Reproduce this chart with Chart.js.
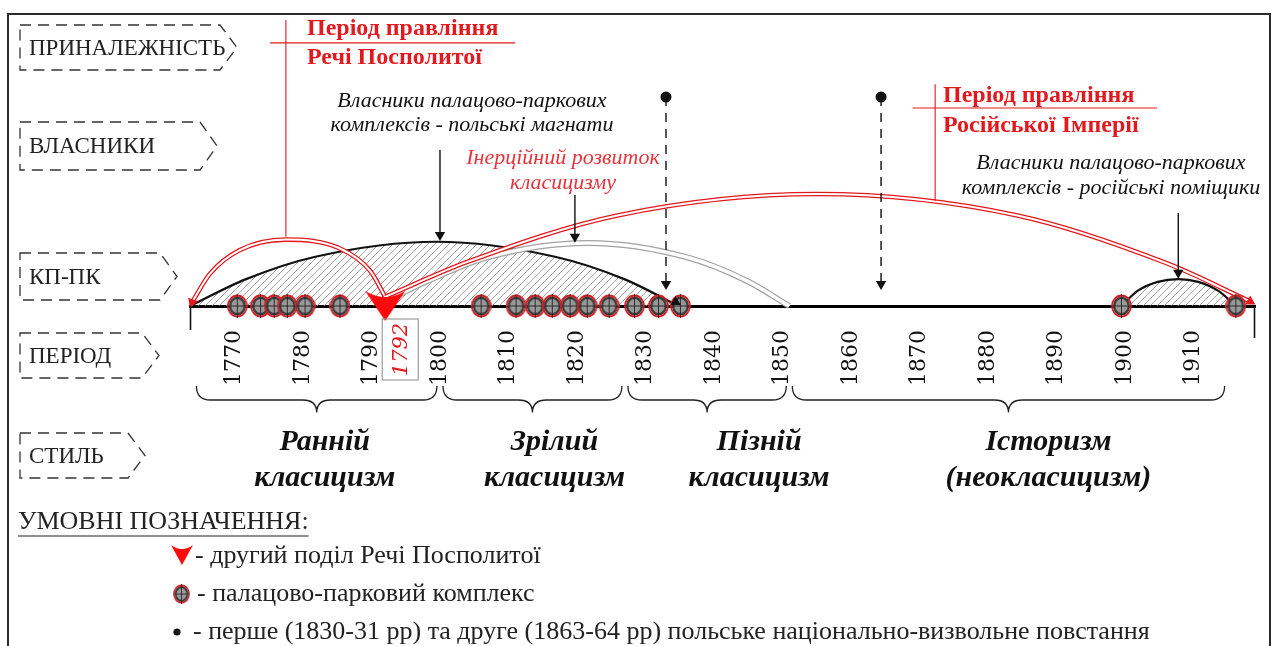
<!DOCTYPE html>
<html>
<head>
<meta charset="utf-8">
<script src="https://cdn.jsdelivr.net/npm/chart.js@4.4.1/dist/chart.umd.min.js"></script>
<style>
  html, body { margin: 0; padding: 0; background: #fff; }
  #wrap { width: 1275px; height: 646px; }
</style>
</head>
<body>
<div id="wrap"><canvas id="timeline" width="1275" height="646"></canvas></div>
<script>
// ---- data (years on x, schematic height 0..100 on y) ----
const tickYears = [1770, 1780, 1790, 1800, 1810, 1820, 1830, 1840, 1850, 1860, 1870, 1880, 1890, 1900, 1910];
const partitionYear = 1792;
const complexYears = [1770.4, 1773.8, 1775.8, 1777.7, 1780.3, 1785.4, 1806.0, 1811.1, 1813.9,
                      1816.4, 1819.0, 1821.5, 1824.7, 1828.4, 1831.9, 1835.1, 1899.5, 1916.2];
const uprisingYears = [1833, 1864.4];

const styleNames = [["Ранній", "класицизм"], ["Зрілий", "класицизм"], ["Пізній", "класицизм"], ["Історизм", "(неокласицизм)"]];
const styleStart = [1764, 1800, 1827, 1851];
const styleEnd = [1800, 1827, 1851, 1915];

// arcs: [year, height]
const polishOwners = [[1763.5, 0], [1771.6, 8.7], [1781.8, 16.1], [1799.5, 21], [1816.8, 16.1], [1827, 8.7], [1834.8, 0]];
const russianOwners = [[1899.5, 0], [1901.9, 5.0], [1904.8, 7.9], [1907.8, 8.8], [1910.7, 7.9], [1913.6, 5.0], [1916.2, 0]];
const inertiaArc = [[1792, 1.5], [1798.1, 8.1], [1806.9, 15.9], [1821.6, 20.6], [1836.1, 15.9], [1844.9, 8.1], [1851, 0]];
const polishRule = [[1763.8, 1.2], [1766.4, 10.5], [1770.7, 18.2], [1777.5, 21.7], [1785.4, 18.8], [1789.8, 11.5], [1792, 3]];
const russianRule = [[1792, 3], [1804, 14.4], [1825.9, 29.6], [1855.1, 36.6], [1884.3, 29.6], [1906.2, 13.9], [1918.3, 1.5]];

const rowNames = ["ПРИНАЛЕЖНІСТЬ", "ВЛАСНИКИ", "КП-ПК", "ПЕРІОД", "СТИЛЬ"];
const legendTitle = "УМОВНІ ПОЗНАЧЕННЯ:";
const legendItems = ["- другий поділ Речі Посполитої", "- палацово-парковий комплекс",
  "- перше (1830-31 рр) та друге (1863-64 рр) польське національно-визвольне повстання"];

// ---- colours ----
const RED = "#e2191f";
const RED_SOFT = "#e6343c";
const INK = "#111";

// hatch for the owner domes
function makeHatch() {
  const c = document.createElement("canvas");
  c.width = c.height = 7;
  const g = c.getContext("2d");
  g.strokeStyle = "#8c8c8c";
  g.lineWidth = 0.8;
  g.beginPath();
  g.moveTo(0, 7); g.lineTo(7, 0);
  g.moveTo(-1, 1); g.lineTo(1, -1);
  g.moveTo(6, 8); g.lineTo(8, 6);
  g.stroke();
  return g.createPattern(c, "repeat");
}

// palace-park complex marker
function makeComplexIcon(w, h) {
  const c = document.createElement("canvas");
  c.width = w; c.height = h;
  const g = c.getContext("2d");
  const cx = w / 2, cy = h / 2, rx = w / 2 - 1, ry = h / 2 - 1.5;
  g.fillStyle = "#989898";
  g.beginPath(); g.ellipse(cx, cy, rx - 2.2, ry - 2.2, 0, 0, 2 * Math.PI); g.fill();
  g.strokeStyle = "#3e3e3e"; g.lineWidth = 2.4;
  g.beginPath(); g.ellipse(cx, cy, rx - 2.2, ry - 2.2, 0, 0, 2 * Math.PI); g.stroke();
  g.strokeStyle = "#d21f24"; g.lineWidth = 1.8;
  g.beginPath(); g.ellipse(cx, cy, rx, ry, 0, 0, 2 * Math.PI); g.stroke();
  g.strokeStyle = "#222"; g.lineWidth = 0.9;
  g.beginPath();
  g.moveTo(cx, 0); g.lineTo(cx, h);
  g.moveTo(cx - rx + 2, cy); g.lineTo(cx + rx - 2, cy);
  g.stroke();
  return c;
}

// second partition marker (red arrowhead)
function makePartitionIcon(w, h) {
  const c = document.createElement("canvas");
  c.width = w; c.height = h;
  const g = c.getContext("2d");
  g.fillStyle = "#ff0a0a";
  g.beginPath();
  g.moveTo(0, 0);
  g.quadraticCurveTo(w / 2, h * 0.4, w, 0);
  g.lineTo(w / 2, h);
  g.closePath();
  g.fill();
  return c;
}

const hatchFill = makeHatch();
const complexIcon = makeComplexIcon(21, 24);
const partitionIcon = makePartitionIcon(40, 30);

const toXY = pts => pts.map(p => ({ x: p[0], y: p[1] }));

function curve(pts, color, width, order, extra) {
  return Object.assign({
    data: toXY(pts), borderColor: color, borderWidth: width,
    cubicInterpolationMode: "monotone", pointRadius: 0, fill: false, clip: false, order: order
  }, extra || {});
}

function pointer(year, from, to, dot, dashed) {
  return {
    data: [{ x: year, y: from }, { x: year, y: to }],
    borderColor: INK, borderWidth: 1.4, borderDash: dashed ? [9, 7] : [],
    pointStyle: ["circle", "triangle"], pointRadius: [dot ? 5.5 : 0, 6],
    pointRotation: [0, 180], pointBackgroundColor: INK, pointBorderWidth: 0,
    clip: false, order: 5
  };
}

function leader(pts) {
  return { data: toXY(pts), borderColor: RED, borderWidth: 1.1, pointRadius: 0, clip: false, order: 12 };
}

const arrowHeads = [
  { x: polishRule[0][0], y: polishRule[0][1], rot: 200, color: RED },
  { x: russianRule[6][0], y: russianRule[6][1], rot: 120, color: RED },
  { x: polishOwners[6][0] - 0.4, y: 1.3, rot: 120, color: INK }
];

const datasets = [
  curve(polishOwners, INK, 2.2, 20, { fill: "origin", backgroundColor: hatchFill }),
  curve(russianOwners, INK, 2.2, 20, { fill: "origin", backgroundColor: hatchFill }),
  curve(inertiaArc, "#a2a2a2", 6, 18),
  curve(inertiaArc, "#fff", 3.6, 17),
  curve(polishRule, RED, 4.6, 16),
  curve(polishRule, "#fff", 2, 15),
  curve(russianRule, RED, 4.6, 14),
  curve(russianRule, "#fff", 2, 13),
  leader([[1777.5, 93.5], [1777.5, 22.6]]),
  leader([[1775.2, 86], [1811, 86]]),
  leader([[1872.3, 72.5], [1872.3, 34.3]]),
  leader([[1869, 64.7], [1904.7, 64.7]]),
  pointer(1800, 51, 23.2, false, false),
  pointer(1819.7, 36.3, 22.6, false, false),
  pointer(1907.8, 30.4, 10.9, false, false),
  pointer(uprisingYears[0], 68.3, 7.2, true, true),
  pointer(uprisingYears[1], 68.3, 7.2, true, true),
  { data: complexYears.map(y => ({ x: y, y: 0 })), showLine: false, pointStyle: complexIcon,
    pointRadius: 10, clip: false, order: 3 },
  { data: [{ x: partitionYear, y: 0 }], showLine: false, pointStyle: partitionIcon,
    pointRadius: 15, clip: false, order: 2 },
  { data: arrowHeads, showLine: false, pointStyle: "triangle", pointRadius: 6,
    pointRotation: c => c.raw.rot, pointBackgroundColor: c => c.raw.color,
    pointBorderWidth: 0, clip: false, order: 1 }
];

// ---- layout helpers for the decoration plugin ----
const rowBoxes = [[20, 25, 200, 45], [20, 122, 180, 48], [20, 253, 140, 47], [20, 333, 122, 45], [20, 433, 108, 45]];
const styleLabelShift = [8, 22, 52, 40];

function tagBox(ctx, b, label) {
  const [x, y, w, h] = b, tip = 17;
  ctx.save();
  ctx.setLineDash([11, 7]);
  ctx.lineWidth = 1.3;
  ctx.strokeStyle = "#333";
  ctx.beginPath();
  ctx.moveTo(x, y);
  ctx.lineTo(x + w, y);
  ctx.lineTo(x + w + tip, y + h / 2);
  ctx.lineTo(x + w, y + h);
  ctx.lineTo(x, y + h);
  ctx.closePath();
  ctx.stroke();
  ctx.restore();
  ctx.font = "23px 'Liberation Serif'";
  ctx.fillStyle = "#222";
  ctx.textAlign = "left";
  ctx.textBaseline = "middle";
  ctx.fillText(label, x + 9, y + h / 2 + 1);
}

function brace(ctx, x1, x2, y, h) {
  const mid = (x1 + x2) / 2, r = 14;
  ctx.beginPath();
  ctx.moveTo(x1, y - h);
  ctx.quadraticCurveTo(x1, y, x1 + r, y);
  ctx.lineTo(mid - r, y);
  ctx.quadraticCurveTo(mid, y, mid, y + h * 0.9);
  ctx.quadraticCurveTo(mid, y, mid + r, y);
  ctx.lineTo(x2 - r, y);
  ctx.quadraticCurveTo(x2, y, x2, y - h);
  ctx.stroke();
}

function lines(ctx, txt, x, ys) {
  txt.forEach((t, i) => ctx.fillText(t, x, ys[i]));
}

const decor = {
  id: "decor",
  afterDraw(chart) {
    const ctx = chart.ctx, xs = chart.scales.x, ys = chart.scales.y;
    const axisY = ys.getPixelForValue(0);
    ctx.save();

    // frame
    ctx.strokeStyle = "#2b2b2b";
    ctx.lineWidth = 2;
    ctx.strokeRect(8, 14, 1262, 650);

    // ends of the time axis
    ctx.strokeStyle = INK;
    ctx.lineWidth = 1.6;
    ctx.beginPath();
    ctx.moveTo(xs.left + 0.5, axisY); ctx.lineTo(xs.left + 0.5, axisY + 24);
    ctx.moveTo(xs.right - 0.5, axisY); ctx.lineTo(xs.right - 0.5, axisY + 32);
    ctx.stroke();

    // row tags
    rowNames.forEach((n, i) => tagBox(ctx, rowBoxes[i], n));

    // 1792 label in a box
    const px = xs.getPixelForValue(partitionYear) + 15;
    ctx.strokeStyle = "#8a8a8a";
    ctx.lineWidth = 1;
    ctx.strokeRect(px - 18, 319, 36, 61);
    ctx.save();
    ctx.translate(px, 349.5);
    ctx.rotate(-Math.PI / 2);
    ctx.font = "italic 21px 'DejaVu Serif'";
    ctx.fillStyle = RED;
    ctx.textAlign = "center";
    ctx.textBaseline = "middle";
    ctx.fillText(String(partitionYear), 0, 1);
    ctx.restore();

    // style periods
    ctx.strokeStyle = "#222";
    ctx.lineWidth = 1.3;
    ctx.font = "italic bold 30px 'Liberation Serif'";
    ctx.fillStyle = INK;
    ctx.textAlign = "center";
    ctx.textBaseline = "middle";
    styleNames.forEach((n, i) => {
      const a = xs.getPixelForValue(styleStart[i]) + 3;
      const b = xs.getPixelForValue(styleEnd[i]) - 3;
      brace(ctx, a, b, 400, 14);
      lines(ctx, n, (a + b) / 2 + styleLabelShift[i], [442, 478]);
    });

    // rule titles
    ctx.font = "bold 24px 'Liberation Serif'";
    ctx.fillStyle = RED;
    ctx.textAlign = "left";
    lines(ctx, ["Період правління", "Речі Посполитої"], 307, [29, 58]);
    lines(ctx, ["Період правління", "Російської Імперії"], 943, [96, 126]);

    // owner notes
    ctx.font = "italic 22px 'Liberation Serif'";
    ctx.textAlign = "center";
    ctx.fillStyle = INK;
    lines(ctx, ["Власники палацово-паркових", "комплексів - польські магнати"], 472, [101, 125]);
    lines(ctx, ["Власники палацово-паркових", "комплексів - російські поміщики"], 1111, [163, 188]);
    ctx.fillStyle = RED_SOFT;
    lines(ctx, ["Інерційний розвиток", "класицизму"], 563, [158, 183]);

    // legend
    ctx.textAlign = "left";
    ctx.fillStyle = "#222";
    ctx.font = "26px 'Liberation Serif'";
    ctx.fillText(legendTitle, 18, 522);
    const tw = ctx.measureText(legendTitle).width;
    ctx.strokeStyle = "#222";
    ctx.lineWidth = 1.2;
    ctx.beginPath(); ctx.moveTo(18, 536); ctx.lineTo(18 + tw, 536); ctx.stroke();

    ctx.drawImage(partitionIcon, 171, 545, 22, 20);
    ctx.drawImage(complexIcon, 173, 584, 17, 20);
    ctx.fillStyle = INK;
    ctx.beginPath(); ctx.arc(177, 632, 3.6, 0, 2 * Math.PI); ctx.fill();
    ctx.fillStyle = "#222";
    ctx.fillText(legendItems[0], 195, 556);
    ctx.fillText(legendItems[1], 197, 594);
    ctx.fillText(legendItems[2], 193, 632);

    ctx.restore();
  }
};

new Chart(document.getElementById("timeline"), {
  type: "line",
  data: { datasets: datasets },
  options: {
    responsive: false,
    devicePixelRatio: 1,
    animation: false,
    events: [],
    layout: { autoPadding: false, padding: { left: 190, right: 20, top: 0, bottom: 0 } },
    plugins: { legend: { display: false }, tooltip: { enabled: false } },
    scales: {
      x: {
        type: "linear",
        min: 1763.5,
        max: 1919,
        afterBuildTicks: s => { s.ticks = tickYears.map(v => ({ value: v })); },
        afterFit: s => { s.height = 340; },
        grid: { display: false, drawTicks: false },
        border: { display: true, color: "#000", width: 3 },
        ticks: {
          autoSkip: false, minRotation: 90, maxRotation: 90, padding: 24,
          color: INK, font: { family: "DejaVu Serif", size: 22 },
          callback: v => String(v)
        }
      },
      y: { type: "linear", min: 0, max: 100, display: false }
    }
  },
  plugins: [decor]
});
</script>
</body>
</html>
